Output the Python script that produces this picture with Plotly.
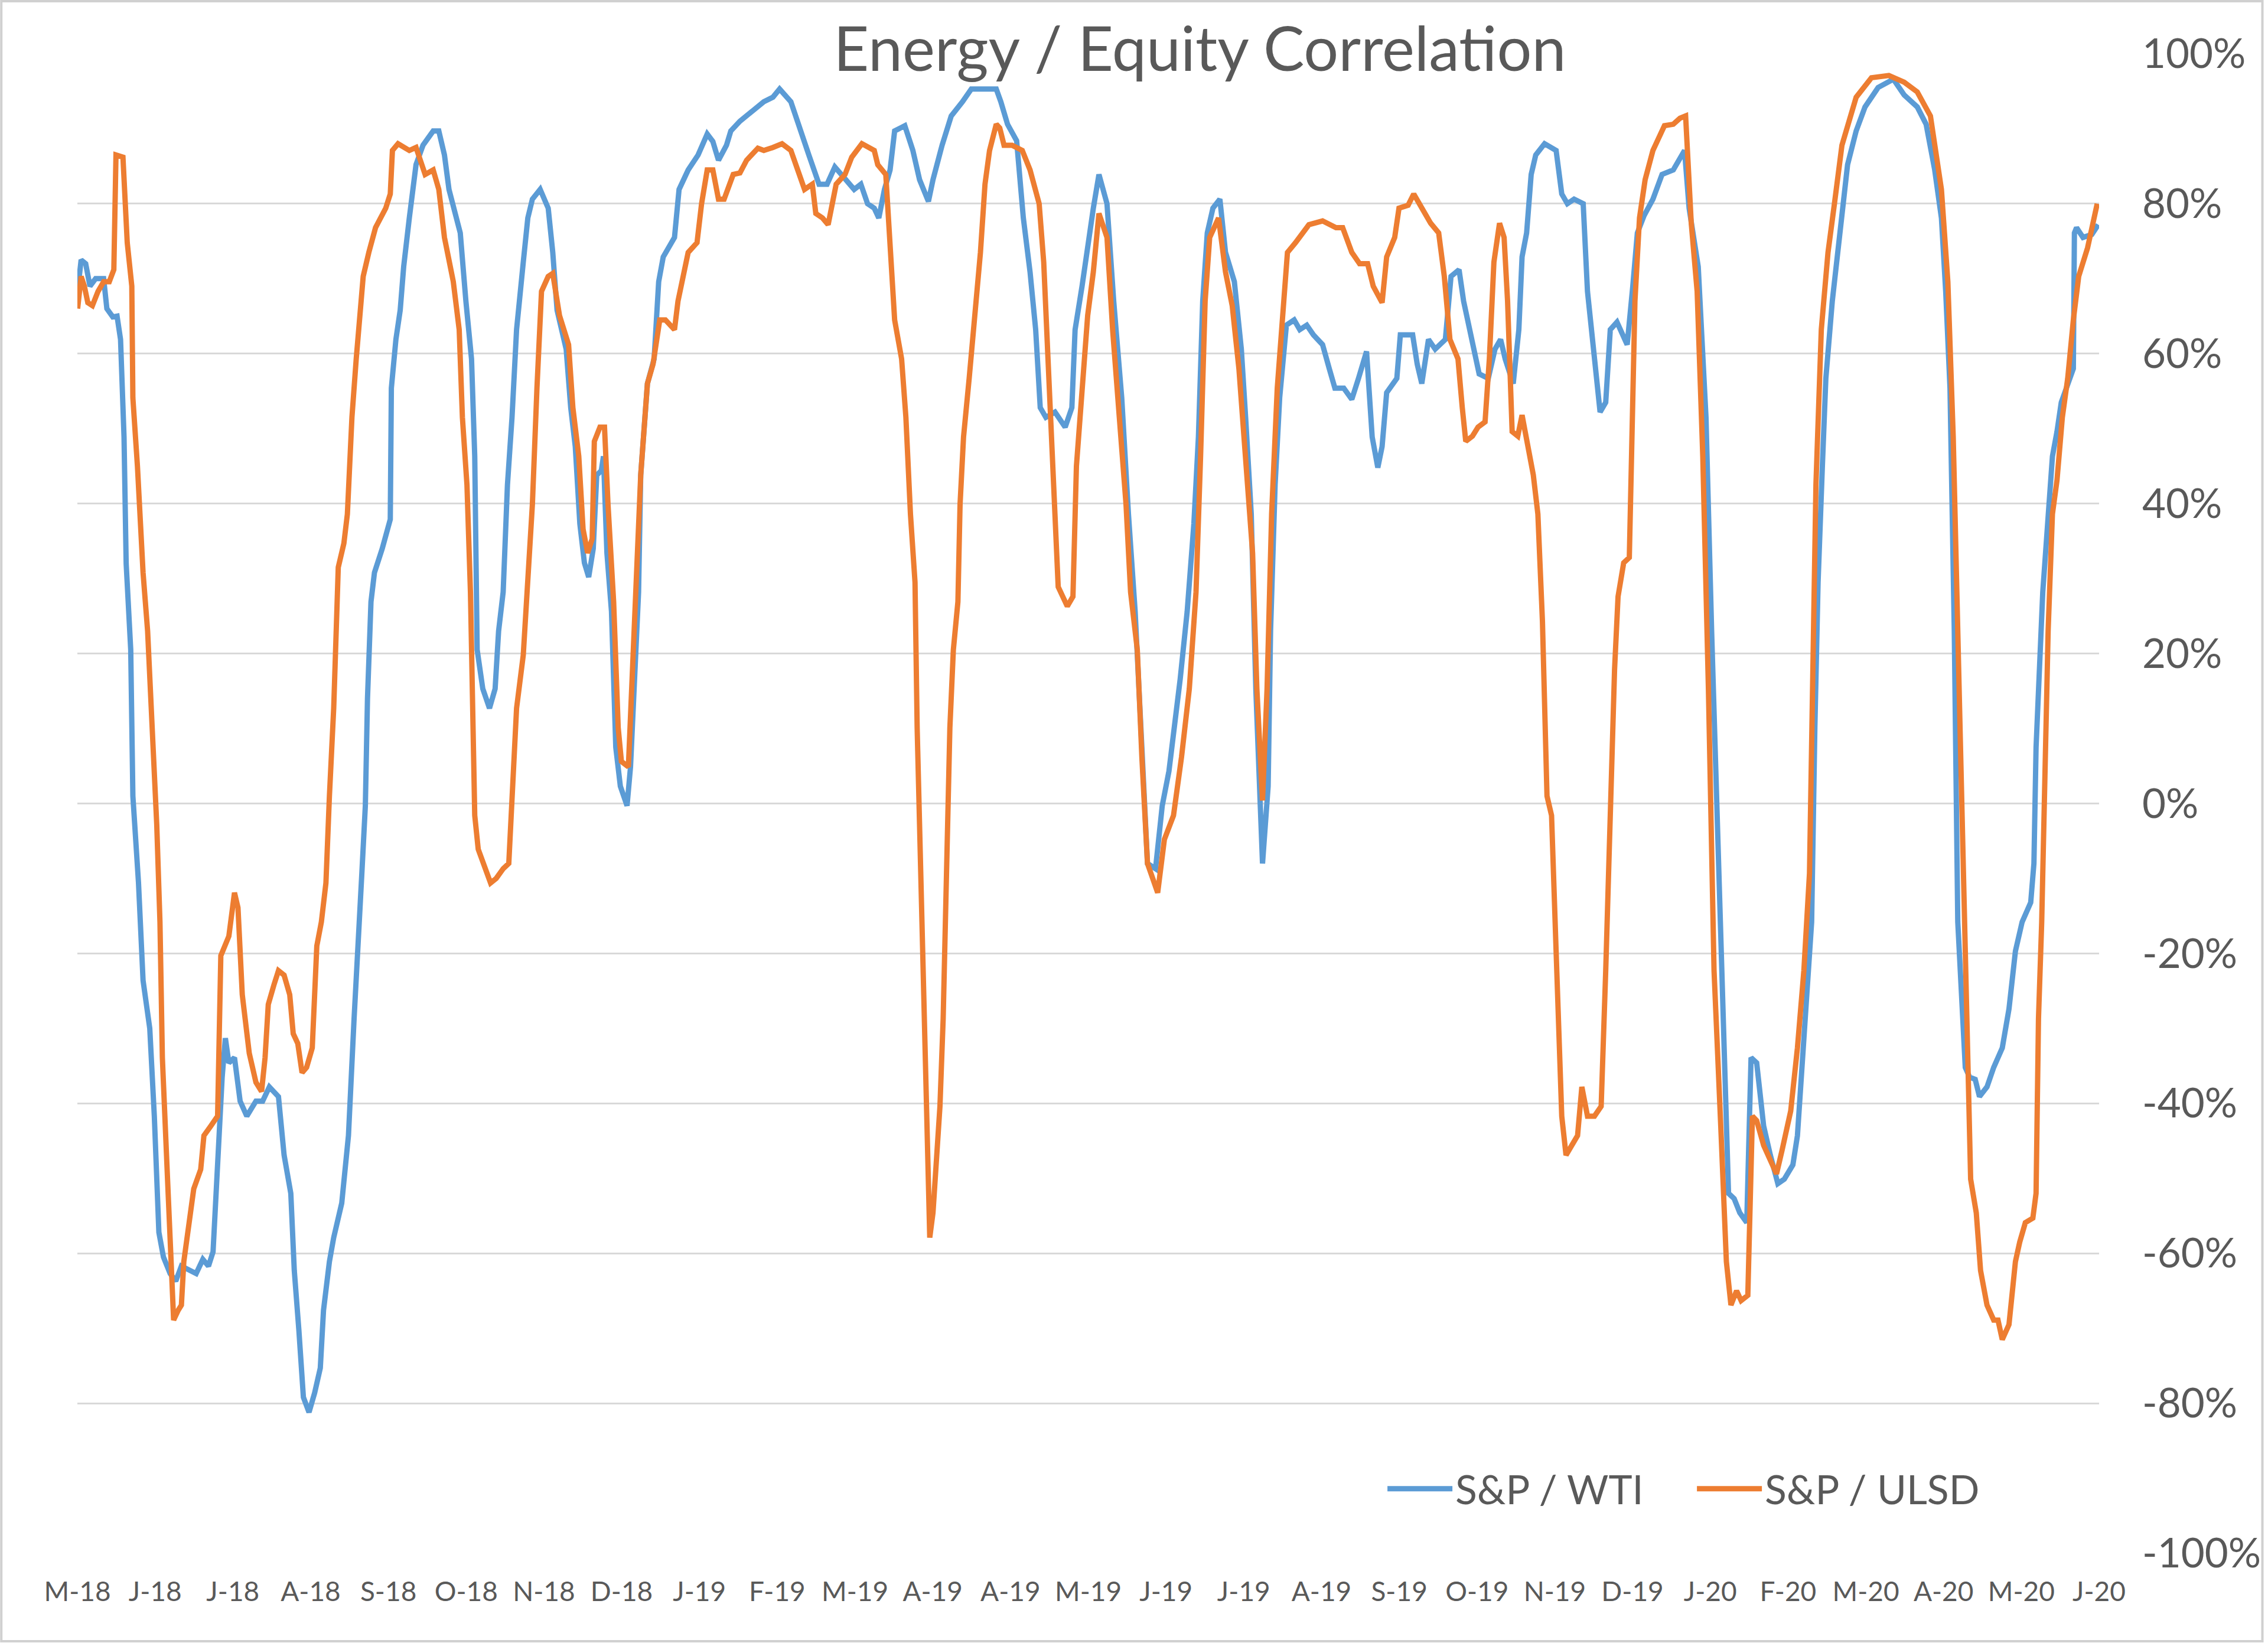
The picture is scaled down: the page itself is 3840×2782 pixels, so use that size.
import pandas as pd
import plotly.graph_objects as go

# ---------------- data ----------------
BASE_DATE = pd.Timestamp("2018-05-17")   # first label date
TICK_STEP_DAYS = 29                      # Excel axis major unit
tick_labels = ["M-18", "J-18", "J-18", "A-18", "S-18", "O-18", "N-18", "D-18",
               "J-19", "F-19", "M-19", "A-19", "A-19", "M-19", "J-19", "J-19",
               "A-19", "S-19", "O-19", "N-19", "D-19", "J-20", "F-20", "M-20",
               "A-20", "M-20", "J-20"]
y_tick_values = [-100, -80, -60, -40, -20, 0, 20, 40, 60, 80, 100]
y_tick_labels = ["-100%", "-80%", "-60%", "-40%", "-20%", "0%", "20%", "40%", "60%", "80%", "100%"]

# S&P / WTI : day offset from BASE_DATE, correlation in %
wti_days = [0.1, 1.4, 3.1, 4.7, 6.8, 9.8, 11.0, 13.2, 14.8, 16.1, 17.4, 18.2, 19.9, 20.7, 22.8, 24.5,
            27.0, 28.7, 30.4, 32.1, 34.6, 36.7, 38.8, 42.2, 44.3, 46.8, 48.9, 50.6, 52.3, 54.0, 55.2,
            56.5, 58.6, 60.7, 63.2, 66.6, 69.1, 71.6, 75.0, 77.1, 79.6, 80.9, 82.6, 84.3, 86.4, 88.5,
            90.6, 91.8, 94.0, 95.6, 98.6, 101.1, 103.2, 104.5, 106.1, 107.4, 108.2, 109.5, 110.8,
            113.7, 116.7, 117.1, 118.8, 120.4, 121.7, 123.8, 126.3, 128.9,
            132.7, 134.8, 136.9, 138.6, 142.8, 144.9, 147.0, 148.2, 149.1, 151.2, 153.7, 155.8, 157.1,
            158.8, 160.4, 162.1, 163.8, 166.3, 168.0, 169.7, 172.6, 175.6, 177.3, 178.9, 182.3, 184.0,
            185.7, 187.4, 189.1, 190.7, 192.4, 193.7, 195.4, 196.2, 197.5, 199.2, 200.8, 202.5, 205.0,
            206.3, 208.0, 209.3, 210.1, 212.6, 215.1, 216.8, 218.5, 222.7, 224.4, 227.8, 231.5, 234.9,
            237.0, 239.1, 242.1, 243.7, 247.1, 251.3,
            256.0, 259.4, 261.9, 266.1, 269.5, 272.8, 276.6, 279.6, 282.5, 286.3, 289.7, 292.2, 294.7,
            297.2, 298.9, 301.0, 303.1, 304.8, 308.6, 311.6, 314.1, 317.4, 319.1, 322.5, 325.9, 330.1,
            333.4, 336.8, 342.7, 344.4, 346.9, 350.3, 352.8, 355.3, 357.4, 359.1, 361.2, 364.6, 368.4,
            370.9, 372.1, 374.7, 376.4, 378.9, 381.0,
            384.0, 386.5, 389.5, 392.0, 394.5, 397.0, 399.1, 402.1, 404.6, 407.1, 409.2, 411.3, 413.9,
            416.4, 418.1, 419.7, 421.4, 423.5, 426.1, 428.2, 431.5, 434.1, 435.7, 437.8, 439.5, 442.0,
            444.1, 445.0, 446.7, 448.4, 450.9, 453.8, 455.9, 458.5, 461.0, 464.4, 466.9, 469.0, 472.3,
            475.3, 477.8, 480.8, 482.9, 485.0, 486.6, 488.3, 492.1, 493.4, 498.0, 499.7, 501.4, 503.9,
            506.4,
            510.2, 512.3, 515.3, 517.0, 520.3, 522.8, 526.2, 528.7, 530.8, 532.5, 535.5, 537.6, 538.8,
            540.5, 542.2, 543.9, 547.2, 551.5, 553.6, 555.7, 558.2, 561.6, 563.2, 564.9, 566.2, 567.9,
            570.0, 571.7, 574.2, 578.0, 580.1, 581.8, 584.3, 587.6, 591.0, 595.2, 599.4, 601.1, 604.5,
            607.4, 609.5, 612.0, 614.1, 615.8, 617.9, 620.0, 622.6, 624.2, 626.3, 628.9, 631.4,
            634.2, 636.6, 639.8, 641.5, 643.1, 645.1, 646.8, 648.0, 649.2, 650.8, 652.1, 654.5, 657.7,
            660.2, 663.4, 666.7, 671.6, 677.3, 681.3, 686.2, 689.5, 692.7, 695.2, 696.8, 698.4, 700.0,
            701.3, 702.5, 704.1, 705.7, 707.8, 709.4, 712.2, 714.7, 717.9, 720.4, 722.8, 725.3, 728.5,
            729.7, 730.5, 733.0, 734.6, 736.6, 738.3, 739.9, 744.4, 744.8, 745.6, 748.0, 751.3, 753.7]
wti_corr = [68.3, 72.5, 72.0, 69.0, 70.0, 70.0, 66.0, 64.9, 65.0, 61.9, 48.9, 32.0, 20.5, 1.0, -10.6, -23.6,
            -30.0, -41.7, -57.2, -60.5, -62.7, -63.7, -61.7, -62.3, -62.7, -60.8, -61.7, -59.8, -46.9, -36.5, -31.3,
            -34.6, -33.9, -39.7, -41.7, -39.7, -39.7, -37.8, -39.1, -46.9, -52.0, -62.3, -70.2, -79.2, -81.2, -78.6,
            -75.3, -67.6, -61.1, -57.9, -53.3, -44.3, -28.7, -21.0, -9.3, -0.3, 14.0, 26.9, 30.8,
            34.0, 37.9, 55.4, 61.9, 65.8, 71.6, 78.1, 85.2, 87.8,
            89.7, 89.7, 86.5, 81.9, 76.1, 67.0, 59.3, 46.3, 20.5, 15.3, 12.7, 15.3, 23.0,
            28.2, 42.5, 51.5, 63.2, 72.2, 78.1, 80.6, 81.9, 79.4, 73.5, 65.8, 60.6, 52.8,
            47.6, 37.3, 32.1, 30.2, 34.0, 43.8, 44.4, 46.3, 33.4, 25.6, 7.5, 2.3, -0.3,
            4.9, 17.9, 28.2, 43.8, 56.0, 59.3, 69.6, 72.9, 75.5, 81.9, 84.5, 86.5, 89.3,
            88.3, 85.8, 87.8, 89.7, 91.0, 92.3,
            93.6, 94.2, 95.3, 93.6, 89.7, 86.5, 82.6, 82.6, 84.9, 83.2, 81.9, 82.6, 80.0,
            79.4, 78.1, 81.9, 84.5, 89.7, 90.4, 87.1, 83.2, 80.3, 83.2, 87.8, 91.7, 93.6,
            95.3, 95.3, 95.3, 93.6, 90.6, 88.4, 78.1, 70.9, 63.2, 52.8, 51.5, 52.2, 50.2,
            52.8, 63.2, 69.0, 73.5, 79.4, 83.9,
            80.0, 67.0, 54.1, 38.6, 25.6, 7.5, -8.0, -8.7, -0.3, 4.3, 10.1, 16.6, 25.6,
            37.3, 48.9, 67.0, 76.1, 79.4, 80.6, 73.5, 69.6, 60.6, 51.5, 38.6, 15.3, -8.0,
            2.3, 23.0, 42.5, 54.1, 63.8, 64.5, 63.2, 63.8, 62.5, 61.2, 58.0, 55.4, 55.4,
            53.9, 56.7, 60.3, 48.9, 44.8, 47.6, 54.8, 56.7, 62.5, 62.5, 58.6, 56.0, 61.9,
            60.6,
            61.9, 70.3, 71.2, 67.0, 61.9, 57.3, 56.7, 60.6, 61.9, 59.3, 56.0, 63.2, 72.9,
            76.1, 83.9, 86.5, 88.0, 87.1, 81.3, 80.0, 80.6, 80.0, 68.3, 61.9, 58.6, 52.2,
            53.5, 63.2, 64.2, 61.2, 69.0, 76.1, 78.4, 80.6, 83.9, 84.5, 87.1, 79.4, 71.6,
            51.5, 23.0, -8.0, -33.9, -52.0, -52.7, -54.6, -55.9, -33.9, -34.6, -43.0, -46.9,
            -50.7, -50.1, -48.2, -44.3, -35.2, -26.1, -15.8, 10.1, 29.5, 45.0, 56.7, 67.0, 77.4,
            85.2, 89.7, 92.9, 95.5, 96.6, 94.5, 92.9, 90.6, 84.5, 78.1, 68.3, 55.4, 23.0,
            -15.8, -23.6, -35.2, -36.5, -36.8, -39.1, -37.8, -35.2, -32.6, -27.4, -19.7, -15.8, -13.2,
            -8.0, 7.5, 28.2, 37.3, 46.3, 49.6, 53.5, 58.0, 76.1, 76.8, 75.5, 75.9, 77.2]

# S&P / ULSD : day offset from BASE_DATE, correlation in %
ulsd_days = [0.1, 1.4, 2.6, 3.9, 5.6, 7.7, 9.8, 11.9, 13.6, 14.4, 17.0, 18.6, 20.3, 20.7, 22.4, 24.5,
             26.2, 27.9, 29.6, 30.8, 31.7, 33.4, 35.0, 35.9, 37.6, 38.8, 39.7, 41.3, 43.4, 46.0, 47.2,
             49.8, 52.3, 53.5, 56.5, 58.6, 59.9, 61.5, 64.1, 66.6, 68.7, 70.0, 71.2, 73.3, 75.0, 77.1,
             79.2, 80.5, 82.2, 83.8, 85.5, 87.6, 89.3, 91.0, 92.7, 94.0, 95.6, 97.3, 99.4, 100.7, 102.4,
             104.0, 106.6, 108.7, 111.2, 115.0, 116.7, 117.5, 119.6, 123.8, 126.3,
             129.7, 132.7, 134.8, 136.9, 140.2, 142.4, 143.6, 145.3, 146.6, 147.4, 148.2, 149.5, 152.0,
             154.1, 156.2, 158.8, 160.9, 162.1, 163.8, 166.3, 167.6, 169.7, 171.4, 173.1, 175.6, 177.3,
             179.8, 183.2, 184.8, 187.0, 188.6, 190.3, 192.0, 192.8, 194.9, 196.6, 197.9, 200.0, 201.7,
             202.9, 205.5, 207.1, 208.8, 210.1, 212.6, 214.7, 217.2, 219.3, 222.7, 224.0, 227.8, 231.1,
             232.8, 234.9, 237.0, 239.1, 241.2, 244.6, 247.1, 249.6, 253.8,
             256.0, 259.4, 262.8, 266.1, 269.5, 271.2, 274.1, 275.4, 277.9, 280.0, 283.0, 286.3, 288.8,
             292.6, 297.2, 298.5, 301.5, 303.1, 304.8, 307.4, 309.0, 310.7, 312.4, 313.2, 314.1, 315.3,
             316.6, 317.9, 319.1, 321.7, 322.9, 324.2, 325.4, 326.7, 328.4, 329.2, 330.5, 332.6, 335.1,
             336.8, 338.5, 340.2, 342.7, 344.0, 345.6, 348.6, 352.4, 355.3, 358.7, 360.4, 362.0, 363.7,
             365.8, 369.2, 371.3, 372.6, 374.7, 376.8, 378.9, 381.0,
             384.0, 386.1, 388.6, 391.1, 392.8, 395.3, 397.0, 399.1, 402.9, 405.4, 408.8, 411.8, 414.7,
             417.2, 418.9, 420.6, 422.3, 425.6, 428.2, 430.7, 433.2, 435.7, 438.3, 439.9, 442.0, 443.7,
             445.4, 447.5, 449.2, 451.3, 454.3, 456.8, 459.3, 464.4, 469.4, 471.9, 475.3, 478.2, 481.2,
             483.3, 486.6, 488.3, 491.3, 492.9, 496.3, 498.4, 501.4, 504.7, 507.7, 509.8,
             511.9, 514.9, 516.5, 517.8, 520.3, 522.4, 525.0, 526.6, 528.3, 530.4, 532.1, 533.4, 535.1,
             537.2, 538.8, 540.9, 543.0, 544.7, 546.4, 548.1, 549.8, 551.5, 553.6, 555.2, 558.2, 559.5,
             561.1, 563.2, 565.8, 568.3, 570.0, 571.7, 573.3, 574.6, 576.7, 578.8, 579.7, 580.9, 582.6,
             584.7, 587.6, 591.9, 595.2, 597.7, 599.8, 601.9, 604.1, 606.2, 608.3, 610.4, 612.9, 615.0,
             616.7, 618.8, 620.5, 623.0, 624.7, 626.3, 628.9, 633.7,
             635.8, 639.0, 641.5, 643.9, 646.0, 647.2, 648.4, 650.4, 652.9, 655.3, 658.1, 663.4, 669.1,
             675.6, 681.3, 686.2, 691.1, 695.2, 697.6, 699.6, 701.7, 703.3, 704.5, 706.1, 708.2, 709.8,
             712.2, 714.7, 716.3, 717.9, 720.4, 722.8, 724.4, 726.5, 729.3, 730.5, 731.4, 732.6, 733.8,
             735.0, 736.6, 738.3, 740.3, 742.3, 744.4, 746.4, 749.7, 752.1, 753.3]
ulsd_corr = [66.0, 70.3, 69.0, 66.8, 66.4, 68.3, 69.6, 69.6, 71.2, 86.5, 86.2, 74.8, 69.0, 54.1, 45.0, 30.8,
             23.0, 11.4, -2.8, -15.8, -33.9, -48.2, -61.1, -68.9, -67.6, -66.9, -61.1, -56.6, -51.4, -48.8, -44.3,
             -43.0, -41.7, -20.3, -17.7, -11.9, -13.9, -25.5, -33.3, -37.2, -38.4, -33.9, -26.8, -24.2, -22.3, -22.9,
             -25.5, -30.7, -32.0, -35.9, -35.2, -32.6, -19.0, -15.8, -10.6, 1.0, 12.7, 31.5, 34.7, 38.6, 51.5,
             59.3, 70.3, 73.5, 76.8, 79.4, 81.3, 87.1, 88.0, 87.1, 87.5,
             83.9, 84.5, 81.9, 75.5, 69.6, 63.2, 51.5, 42.5, 28.2, 12.7, -1.6, -6.1, -8.7,
             -10.6, -10.0, -8.7, -8.0, 2.3, 12.7, 19.8, 28.2, 39.9, 55.4, 68.3, 70.3, 70.7,
             65.1, 61.2, 52.8, 46.3, 36.6, 33.4, 35.3, 48.3, 50.2, 50.2, 39.9, 26.9, 10.1,
             5.6, 4.9, 17.9, 29.5, 43.8, 56.0, 58.6, 64.5, 64.5, 63.2, 67.0, 73.5, 74.8,
             80.0, 84.5, 84.5, 80.6, 80.6, 83.9, 84.1, 85.8, 87.4,
             87.1, 87.5, 88.0, 87.1, 83.9, 81.9, 82.6, 78.7, 78.1, 77.2, 82.6, 83.9, 86.2,
             88.0, 87.1, 85.2, 83.9, 74.8, 64.5, 59.3, 51.5, 38.6, 29.5, 10.1, -2.8, -22.3,
             -41.7, -57.9, -54.6, -40.4, -28.7, -9.3, 10.1, 20.5, 26.9, 39.9, 48.9, 56.7, 65.8,
             73.5, 82.6, 87.1, 90.6, 90.1, 87.8, 87.8, 87.1, 84.5, 80.0, 72.2, 59.3, 46.3,
             28.9, 26.3, 27.6, 45.0, 54.1, 65.1, 70.9, 78.7,
             75.5, 63.2, 51.5, 39.9, 28.2, 20.5, 6.2, -8.0, -11.9, -4.8, -1.6, 6.2, 15.3,
             28.2, 46.3, 67.0, 75.5, 78.1, 70.9, 66.4, 58.0, 46.3, 33.4, 15.3, 0.4, 15.3,
             38.6, 55.4, 64.5, 73.5, 74.8, 76.1, 77.2, 77.7, 76.8, 76.8, 73.5, 72.0, 72.0,
             69.0, 66.8, 72.9, 75.5, 79.4, 79.8, 81.3, 79.4, 77.4, 76.1, 70.3,
             61.9, 59.3, 52.8, 48.3, 49.0, 50.2, 50.9, 59.3, 72.2, 77.4, 75.5, 67.0, 49.6,
             49.0, 51.8, 47.6, 43.8, 38.6, 24.3, 1.0, -1.6, -19.7, -41.7, -46.9, -44.9, -44.3,
             -37.8, -41.7, -41.7, -40.4, -22.3, 1.0, 17.9, 27.6, 32.1, 32.8, 51.5, 67.0, 78.1,
             83.2, 87.1, 90.4, 90.6, 91.4, 91.7, 77.4, 68.3, 46.3, 15.3, -22.3, -43.0, -61.1,
             -66.9, -65.0, -66.3, -65.6, -41.7, -42.3, -45.6, -49.4,
             -46.2, -41.0, -32.6, -22.3, -9.3, 16.6, 42.5, 63.2, 73.5, 80.0, 87.8, 94.2, 96.8,
             97.1, 96.2, 94.9, 91.7, 81.9, 69.6, 48.9, 16.6, -9.3, -28.7, -50.1, -54.6, -62.3,
             -66.9, -68.9, -68.9, -71.5, -69.5, -61.1, -58.5, -55.9, -55.3, -52.0, -28.7, -15.8, 3.6,
             23.0, 38.6, 43.1, 51.5, 56.7, 64.5, 70.3, 74.1, 78.1, 80.0]

AXIS_DAYS = (len(tick_labels) - 1) * TICK_STEP_DAYS


def to_dates(days):
    return BASE_DATE + pd.to_timedelta(days, unit="D")


tick_dates = [BASE_DATE + pd.Timedelta(days=TICK_STEP_DAYS * k) for k in range(len(tick_labels))]

# ---------------- layout geometry ----------------
W, H = 3840, 2782
ML, MR, MT, MB = 131, 280, 91, 152
PW, PH = W - ML - MR, H - MT - MB
TEXT = "#595959"
FONT = "Lato"

fig = go.Figure()
fig.add_trace(go.Scatter(x=to_dates(wti_days), y=wti_corr, name="S&P / WTI", mode="lines",
                         line=dict(color="#5B9BD5", width=9, shape="linear")))
fig.add_trace(go.Scatter(x=to_dates(ulsd_days), y=ulsd_corr, name="S&P / ULSD", mode="lines",
                         line=dict(color="#ED7D31", width=9, shape="linear")))

fig.update_layout(
    width=W, height=H,
    margin=dict(l=ML, r=MR, t=MT, b=MB, pad=0),
    paper_bgcolor="white", plot_bgcolor="white",
    font=dict(family=FONT, color=TEXT, size=68),
    title=dict(text="Energy / Equity Correlation", xref="container", yref="container",
               x=0.529, xanchor="center", y=1 - 84 / H, yanchor="middle",
               font=dict(family=FONT, size=104, color=TEXT)),
    showlegend=True,
    legend=dict(orientation="h", xref="paper", yref="paper",
                x=(2348 - ML) / PW, xanchor="left", y=(2630 - 2521) / PH, yanchor="middle",
                font=dict(family=FONT, size=68, color=TEXT),
                itemwidth=110, entrywidth=399, entrywidthmode="pixels",
                bgcolor="rgba(0,0,0,0)", borderwidth=0),
    xaxis=dict(type="date", range=[BASE_DATE, BASE_DATE + pd.Timedelta(days=AXIS_DAYS)],
               tickmode="array", tickvals=tick_dates, ticktext=tick_labels,
               showgrid=False, zeroline=False, showline=False, ticks="",
               tickfont=dict(family=FONT, size=46, color=TEXT), ticklabelstandoff=34),
    yaxis=dict(side="right", range=[-100, 100], tickmode="array",
               tickvals=y_tick_values, ticktext=y_tick_labels,
               showgrid=True, gridcolor="#D9D9D9", gridwidth=2.5,
               zeroline=False, showline=False, ticks="",
               tickfont=dict(family=FONT, size=69, color=TEXT), ticklabelstandoff=72),
    shapes=[dict(type="rect", xref="paper", yref="paper", layer="above",
                 x0=-(ML - 2) / PW, x1=(W - ML - 3) / PW,
                 y0=-(MB - 3) / PH, y1=(PH + MT - 2) / PH,
                 line=dict(color="#D0D0D0", width=4), fillcolor="rgba(0,0,0,0)")],
)

fig.write_html("out.html", include_plotlyjs=True, config={"displayModeBar": False},
               post_script="document.body.style.margin='0';document.body.style.overflow='hidden';")
